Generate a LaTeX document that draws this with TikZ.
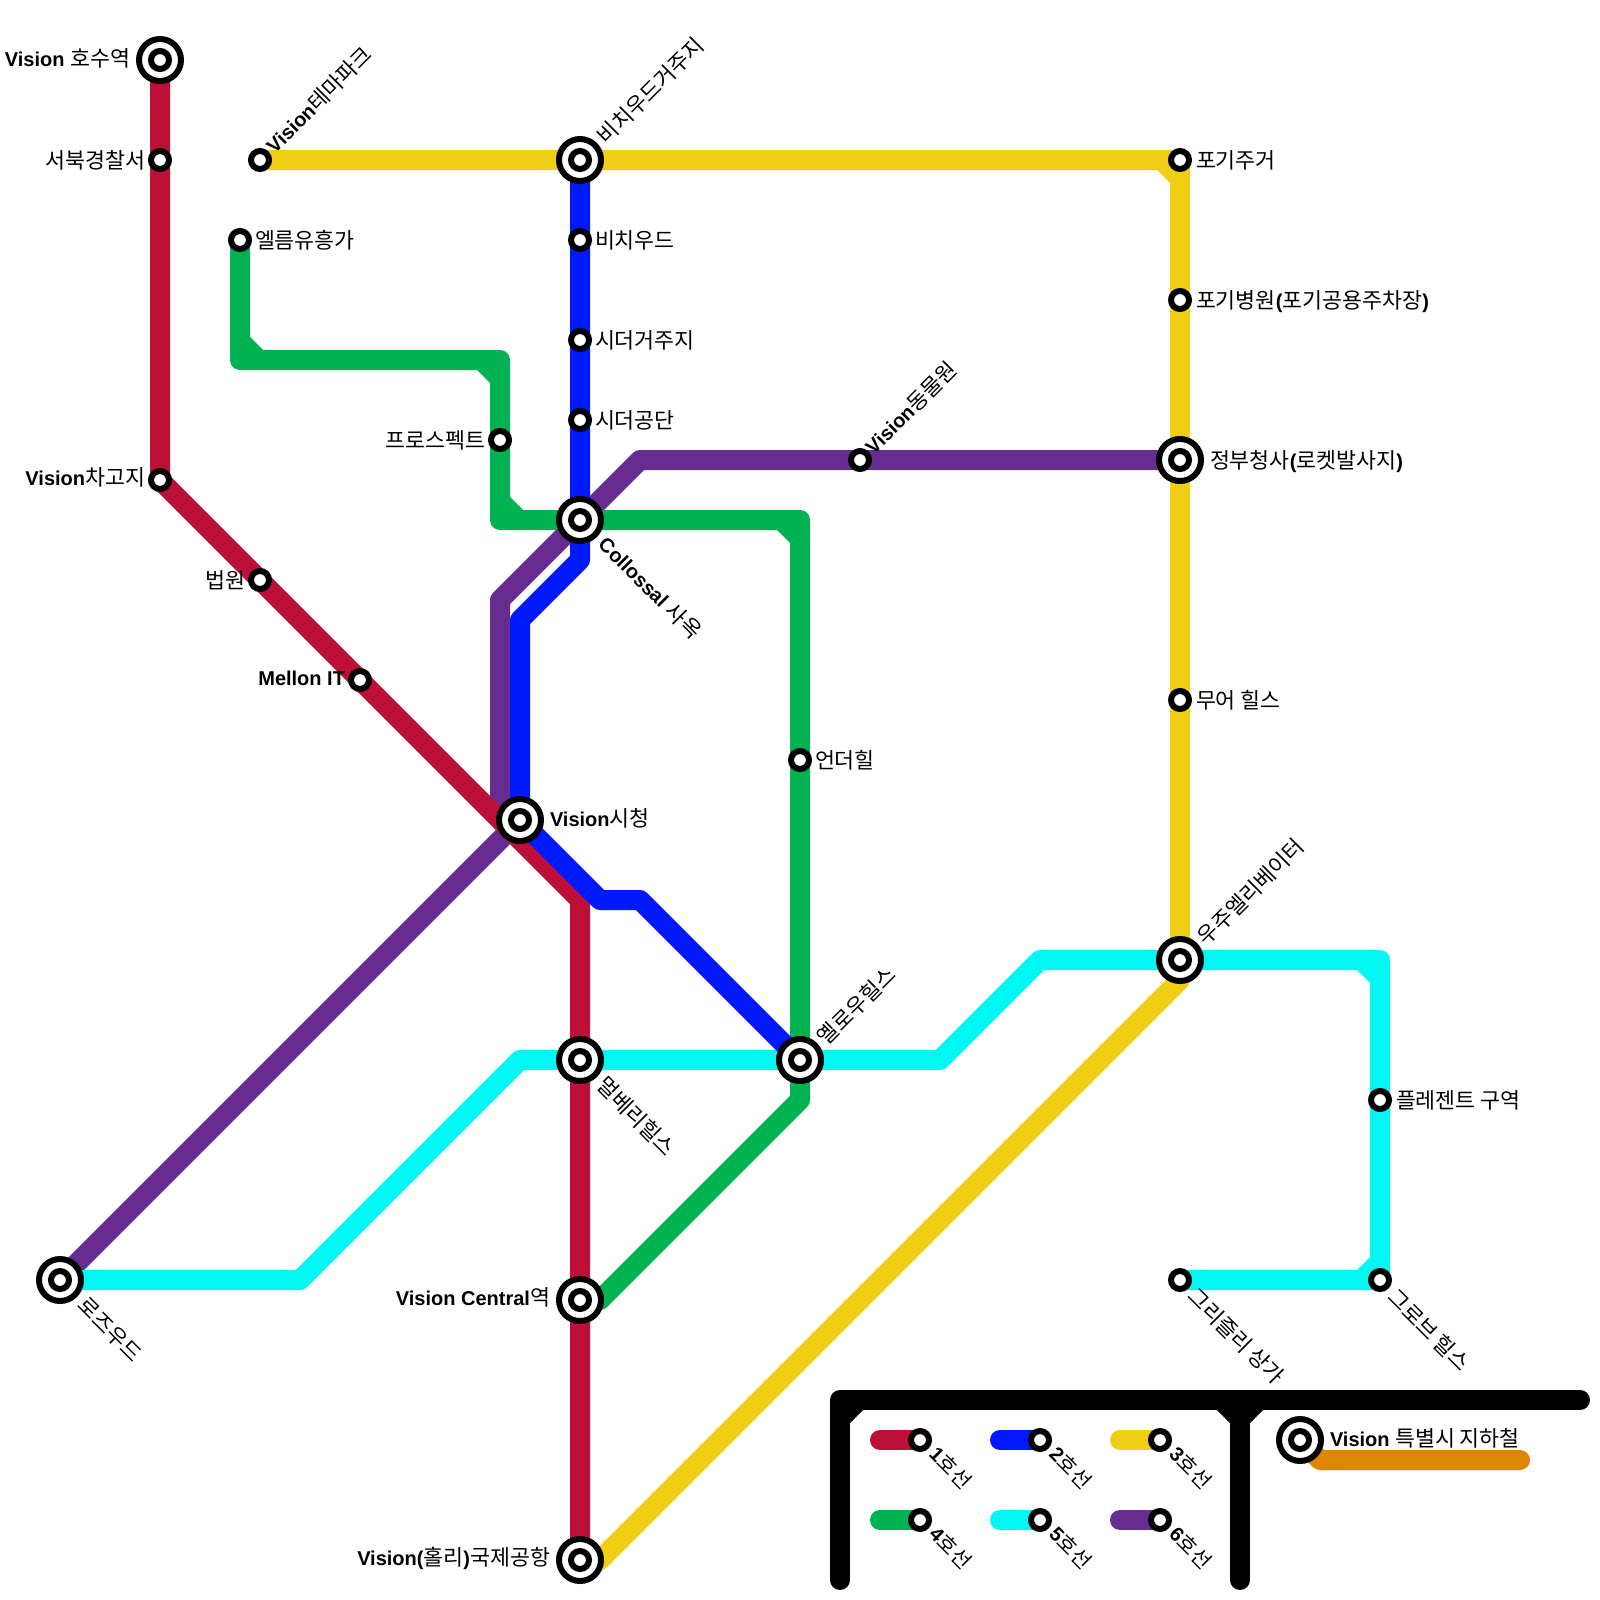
\documentclass[tikz,border=0pt]{standalone}
\usepackage{fontspec}
\setmainfont{Liberation Sans}
\newfontfamily\kor{Noto Sans CJK KR}
\newcommand{\Kr}[1]{{\kor\fontsize{21.7}{22}\selectfont #1}}
\newcommand{\Ks}[1]{{\kor\fontsize{20.5}{22}\selectfont #1}}
\newcommand{\Lt}[1]{{\bfseries #1}}
\definecolor{lred}{HTML}{BD1038}
\definecolor{lblue}{HTML}{0019FF}
\definecolor{lyellow}{HTML}{F0CE15}
\definecolor{lgreen}{HTML}{00B251}
\definecolor{lcyan}{HTML}{00F7F3}
\definecolor{lpurple}{HTML}{662C90}
\definecolor{lorange}{HTML}{DF8600}
\pgfdeclarelayer{lines}
\pgfsetlayers{lines,main}
\tikzset{
  route/.style={line width=20pt,line cap=round,line join=round},
  stnsmall/.style={circle,draw=black,fill=white,line width=6pt,minimum size=18pt,inner sep=0pt,outer sep=0pt},
  stnbig/.style={circle,draw=black,fill=white,line width=6pt,minimum size=42pt,inner sep=0pt,outer sep=0pt},
  lab/.style={inner sep=0pt,outer sep=0pt,font=\fontsize{20}{20}\selectfont,text height=15pt,text depth=4pt,yshift=-1pt},
  labR/.style={lab,anchor=west},
  labL/.style={lab,anchor=east},
  labU/.style={lab,anchor=west,rotate=45},
  labD/.style={lab,anchor=west,rotate=-45},
}
\newcommand{\StnS}[2]{\node[stnsmall] (#1) at (#2) {};}
\newcommand{\StnB}[2]{\node[stnbig] (#1o) at (#2) {}; \node[stnsmall] (#1) at (#2) {};}
\newcommand{\Fil}[5]{\fill[#1] (#2+#4*13,#3) -- (#2,#3) -- (#2,#3+#5*13) -- cycle;}
\begin{document}
\begin{tikzpicture}[x=1pt,y=-1pt]
\useasboundingbox (0,0) rectangle (1600,1600);
% big stations
\StnB{hosu}{160,60}
\StnB{beachres}{580,160}
\StnB{gov}{1180,460}
\StnB{coll}{580,520}
\StnB{city}{520,820}
\StnB{space}{1180,960}
\StnB{yellow}{800,1060}
\StnB{mulb}{580,1060}
\StnB{rose}{60,1280}
\StnB{central}{580,1300}
\StnB{airport}{580,1560}
\StnB{legvis}{1300,1440}
% small stations
\StnS{police}{160,160}
\StnS{theme}{260,160}
\StnS{elm}{240,240}
\StnS{beach}{580,240}
\StnS{cedres}{580,340}
\StnS{cedind}{580,420}
\StnS{prospect}{500,440}
\StnS{pohome}{1180,160}
\StnS{pohosp}{1180,300}
\StnS{zoo}{860,460}
\StnS{moor}{1180,700}
\StnS{depot}{160,480}
\StnS{court}{260,580}
\StnS{mellon}{360,680}
\StnS{under}{800,760}
\StnS{pleasant}{1380,1100}
\StnS{grove}{1380,1280}
\StnS{grizzly}{1180,1280}
\StnS{legA}{920,1440}
\StnS{legB}{1040,1440}
\StnS{legC}{1160,1440}
\StnS{legD}{920,1520}
\StnS{legE}{1040,1520}
\StnS{legF}{1160,1520}
% bends
\coordinate (r1) at (580,900);
\coordinate (y1) at (1180,160); \coordinate (y2) at (1180,980); \coordinate (y3) at (600,1560);
\coordinate (g1) at (240,360); \coordinate (g2) at (500,360); \coordinate (g3) at (500,520);
\coordinate (g4) at (800,520); \coordinate (g5) at (800,1100); \coordinate (g6) at (600,1300);
\coordinate (b1) at (580,560); \coordinate (b2) at (520,620); \coordinate (b3) at (600,900); \coordinate (b4) at (640,900);
\coordinate (p1) at (500,800); \coordinate (p2) at (500,600); \coordinate (p3) at (640,460);
\coordinate (c1) at (300,1280); \coordinate (c2) at (520,1060); \coordinate (c3) at (940,1060); \coordinate (c4) at (1040,960); \coordinate (c5) at (1380,960);
\coordinate (k1) at (840,1580); \coordinate (k2) at (840,1400); \coordinate (k3) at (1580,1400); \coordinate (k4) at (1240,1400); \coordinate (k5) at (1240,1580);
\coordinate (o1) at (1320,1460); \coordinate (o2) at (1520,1460);
\coordinate (la) at (880,1440); \coordinate (lb) at (1000,1440); \coordinate (lc) at (1120,1440);
\coordinate (ld) at (880,1520); \coordinate (le) at (1000,1520); \coordinate (lf) at (1120,1520);
\begin{pgfonlayer}{lines}
\fill[white] (0,0) rectangle (1600,1600);
\draw[route,lpurple] (rose.center) -- (city.center) -- (p1) -- (p2) -- (p3) -- (gov.center);
\draw[route,lred] (hosu.center) -- (depot.center) -- (r1) -- (airport.center);
\draw[route,lgreen] (elm.center) -- (g1) -- (g2) -- (g3) -- (g4) -- (g5) -- (g6) -- (central.center);
\Fil{lgreen}{250}{350}{1}{-1}
\Fil{lgreen}{490}{370}{-1}{1}
\Fil{lgreen}{510}{510}{1}{-1}
\Fil{lgreen}{790}{530}{-1}{1}
\draw[route,lcyan] (rose.center) -- (c1) -- (c2) -- (c3) -- (c4) -- (c5) -- (grove.center) -- (grizzly.center);
\Fil{lcyan}{1370}{970}{-1}{1}
\Fil{lcyan}{1370}{1270}{-1}{-1}
\draw[route,lyellow] (theme.center) -- (y1) -- (y2) -- (y3) -- (airport.center);
\Fil{lyellow}{1170}{170}{-1}{1}
\draw[route,lblue] (beachres.center) -- (b1) -- (b2) -- (city.center) -- (b3) -- (b4) -- (yellow.center);
\draw[route,lorange] (legvis.center) -- (o1) -- (o2);
\draw[route,black] (k1) -- (k2) -- (k3);
\draw[route,black] (k4) -- (k5);
\Fil{black}{850}{1410}{1}{1}
\Fil{black}{1230}{1410}{-1}{1}
\Fil{black}{1250}{1410}{1}{1}
\draw[route,lred] (la) -- (legA.center);
\draw[route,lblue] (lb) -- (legB.center);
\draw[route,lyellow] (lc) -- (legC.center);
\draw[route,lgreen] (ld) -- (legD.center);
\draw[route,lcyan] (le) -- (legE.center);
\draw[route,lpurple] (lf) -- (legF.center);
\end{pgfonlayer}
% labels
\node[labL] (t1) at (130,60) {\Lt{Vision} \Kr{호수역}};
\node[labL] (t2) at (145,162) {\Kr{서북경찰서}};
\node[labL] (t3) at (145,479) {\Lt{Vision}\Kr{차고지}};
\node[labL] (t4) at (245,582) {\Kr{법원}};
\node[labL] (t5) at (345,679) {\Lt{Mellon IT}};
\node[labL] (t6) at (485,442) {\Kr{프로스펙트}};
\node[labL] (t7) at (550,1299) {\Lt{Vision Central}\Kr{역}};
\node[labL] (t8) at (550,1559) {\Lt{Vision(}\Kr{홀리}\Lt{)}\Kr{국제공항}};
\node[labR] (t9) at (255,242) {\Kr{엘름유흥가}};
\node[labR] (t10) at (595,242) {\Kr{비치우드}};
\node[labR] (t11) at (595,342) {\Kr{시더거주지}};
\node[labR] (t12) at (595,422) {\Kr{시더공단}};
\node[labR] (t13) at (1196,162) {\Kr{포기주거}};
\node[labR] (t14) at (1196,302) {\Kr{포기병원}\Lt{(}\Kr{포기공용주차장}\Lt{)}};
\node[labR] (t15) at (1210,462) {\Kr{정부청사}\Lt{(}\Kr{로켓발사지}\Lt{)}};
\node[labR] (t16) at (1196,702) {\Kr{무어 힐스}};
\node[labR] (t17) at (550,820) {\Lt{Vision}\Kr{시청}};
\node[labR] (t18) at (815,762) {\Kr{언더힐}};
\node[labR] (t19) at (1396,1102) {\Kr{플레젠트 구역}};
\node[labR] (t20) at (1330,1440) {\Lt{Vision} \Kr{특별시 지하철}};
\node[labU] (t21) at (271,150) {\Lt{Vision}\Kr{테마파크}};
\node[labU] (t22) at (603,141) {\Kr{비치우드거주지}};
\node[labU] (t23) at (870,451) {\Lt{Vision}\Kr{동물원}};
\node[labU] (t24) at (1203,942) {\Kr{우주엘리베이터}};
\node[labU] (t25) at (823,1042) {\Kr{옐로우힐스}};
\node[labD] (t26) at (601,541) {\Lt{Collossal} \Kr{사옥}};
\node[labD] (t27) at (599,1082) {\Kr{멀베리힐스}};
\node[labD] (t28) at (80,1302) {\Kr{로즈우드}};
\node[labD] (t29) at (1190,1293) {\Kr{그리즐리 상가}};
\node[labD] (t30) at (1390,1294) {\Kr{그로브 힐스}};
\node[labD] (t31) at (932,1451) {\Lt{1}\Ks{호선}};
\node[labD] (t32) at (1052,1451) {\Lt{2}\Ks{호선}};
\node[labD] (t33) at (1172,1451) {\Lt{3}\Ks{호선}};
\node[labD] (t34) at (932,1531) {\Lt{4}\Ks{호선}};
\node[labD] (t35) at (1052,1531) {\Lt{5}\Ks{호선}};
\node[labD] (t36) at (1172,1531) {\Lt{6}\Ks{호선}};
\end{tikzpicture}
\end{document}
